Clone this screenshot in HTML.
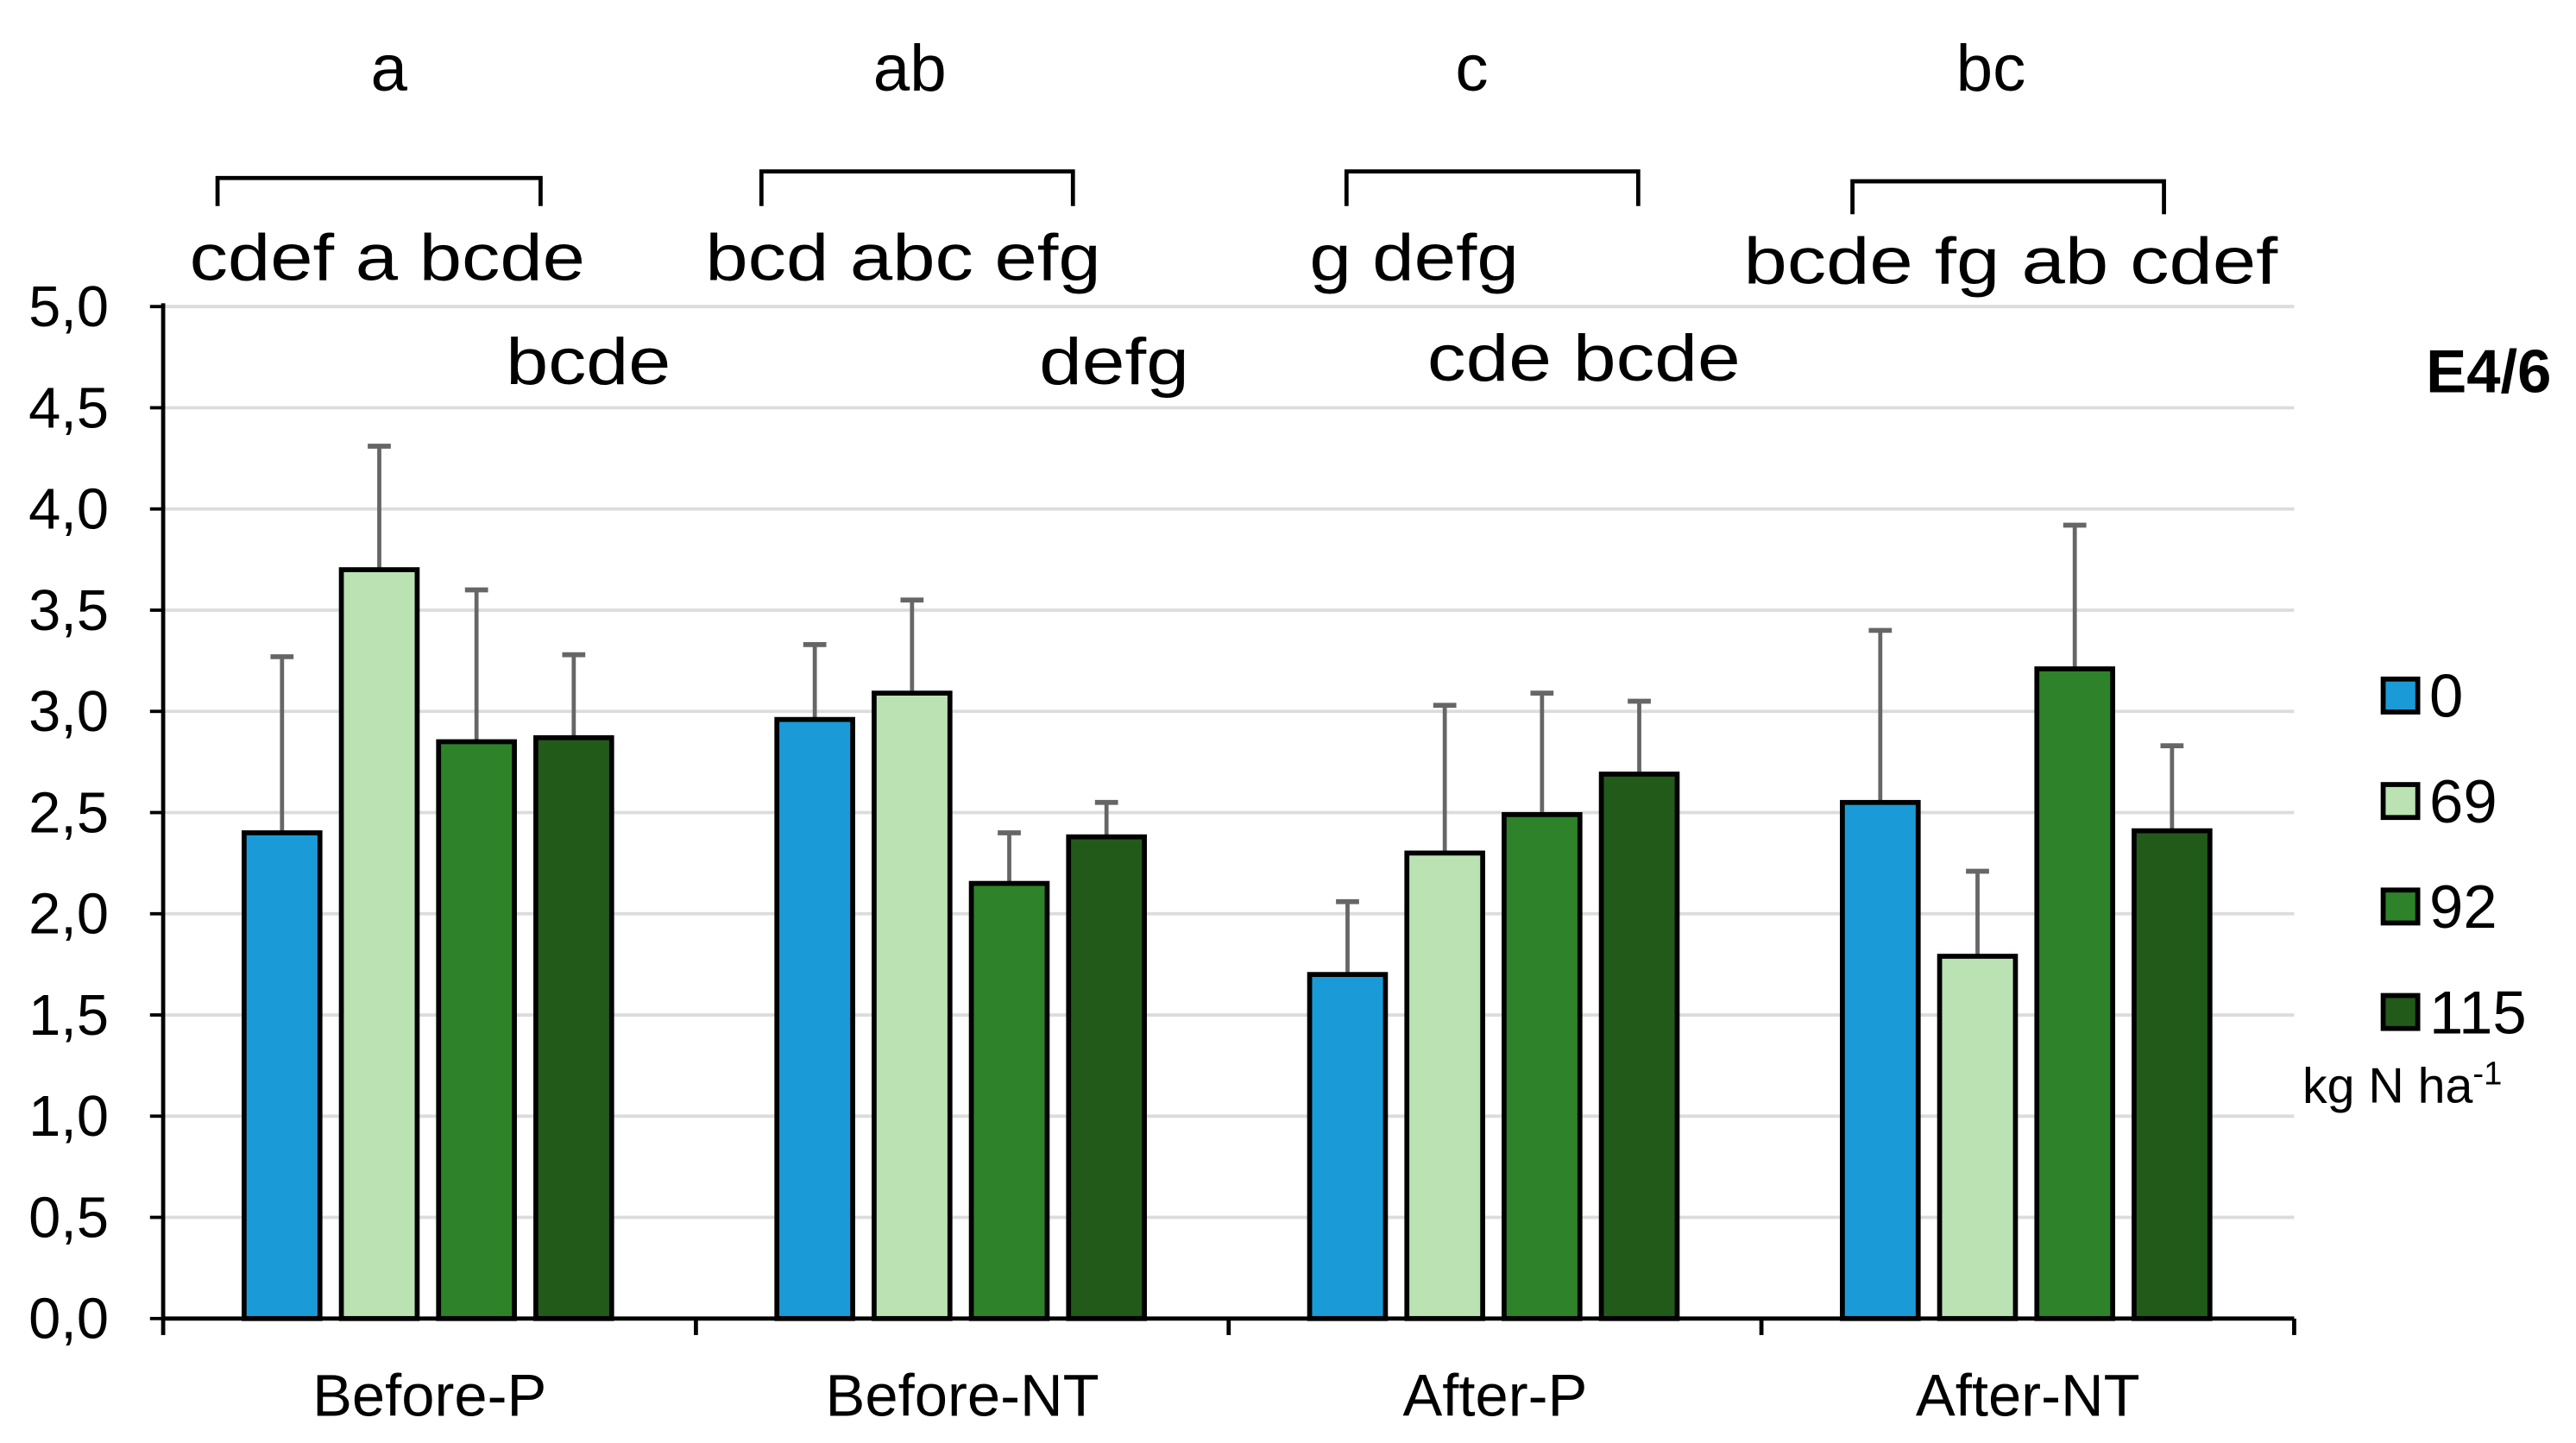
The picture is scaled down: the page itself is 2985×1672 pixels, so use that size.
<!DOCTYPE html>
<html><head><meta charset="utf-8"><style>
html,body{margin:0;padding:0;background:#fff;}
svg{display:block;}
text{font-family:"Liberation Sans",sans-serif;fill:#000;}
</style></head><body>
<svg id="chart" width="2985" height="1672" viewBox="0 0 1563 875.5" preserveAspectRatio="none" xmlns="http://www.w3.org/2000/svg">
<g id="grid"></g>
<g id="bars"></g>
<g id="axes"></g>
<g id="ann"></g>
<g id="legend"></g>
</svg>
<script>
const categories = ["Before-P","Before-NT","After-P","After-NT"];
const seriesNames = ["0","69","92","115"];
const s0 = [2.40, 2.96, 1.70, 2.55];
const s69 = [3.70, 3.09, 2.30, 1.79];
const s92 = [2.85, 2.15, 2.49, 3.21];
const s115 = [2.87, 2.38, 2.69, 2.41];
const e0 = [0.87, 0.37, 0.36, 0.85];
const e69 = [0.61, 0.46, 0.73, 0.42];
const e92 = [0.75, 0.25, 0.60, 0.71];
const e115 = [0.41, 0.17, 0.36, 0.42];
const yTicks = ["0,0","0,5","1,0","1,5","2,0","2,5","3,0","3,5","4,0","4,5","5,0"];
const yTickValues = [0,0.5,1,1.5,2,2.5,3,3.5,4,4.5,5];

const NS="http://www.w3.org/2000/svg";
const colors=["#1a9bd7","#bae2b3","#2e8229","#225a1a"];
const X0=99, X1=1392, Y0=800, Y5=186;
const yScale=v=>Y0-(Y0-Y5)*v/5;
const gw=(X1-X0)/categories.length;
const bw=46, gap=13;
function mk(tag,attrs,parent){const e=document.createElementNS(NS,tag);for(const k in attrs)e.setAttribute(k,attrs[k]);parent.appendChild(e);return e;}
const grid=document.getElementById('grid'),bars=document.getElementById('bars'),axes=document.getElementById('axes'),ann=document.getElementById('ann'),legend=document.getElementById('legend');

yTickValues.forEach((v,i)=>{
  const y=yScale(v);
  if(v>0){const l=mk('line',{x1:X0,x2:X1,y1:y,y2:y,stroke:'#dcdcdc','stroke-width':2},grid);
  
  }
  const t=mk('line',{x1:X0-8,x2:X0,y1:y,y2:y,stroke:'#000','stroke-width':2},axes);
  
  
  const tx=mk('text',{x:66,y:y+12,'text-anchor':'end','font-size':35},axes);
  tx.textContent=yTicks[i];
  
  
});

const series=[s0,s69,s92,s115], errs=[e0,e69,e92,e115];
categories.forEach((c,ci)=>{
  const cx=X0+gw*(ci+0.5);
  const total=4*bw+3*gap;
  series.forEach((s,si)=>{
    const x=cx-total/2+si*(bw+gap)-1;
    const y=yScale(s[ci]);
    const top=yScale(s[ci]+errs[si][ci]);
    const el=mk('line',{x1:x+bw/2,x2:x+bw/2,y1:y,y2:top,stroke:'#666','stroke-width':2.5},bars);
    
    
    const cap=mk('line',{x1:x+bw/2-7,x2:x+bw/2+7,y1:top,y2:top,stroke:'#666','stroke-width':3},bars);
    
    
    const r=mk('rect',{x:x,y:y,width:bw,height:Y0-y,fill:colors[si],stroke:'#000','stroke-width':3},bars);
    
    
  });
  const lab=mk('text',{x:cx,y:859,'text-anchor':'middle','font-size':36},axes);
  lab.textContent=c;
  
  
});
for(let i=0;i<=categories.length;i++){
  const x=X0+gw*i;
  const t=mk('line',{x1:x,x2:x,y1:Y0,y2:810,stroke:'#000','stroke-width':2.5},axes);
  
  
}
const ya=mk('line',{x1:X0,x2:X0,y1:Y5-2,y2:Y0,stroke:'#000','stroke-width':2.5},axes);


const xa=mk('line',{x1:X0,x2:X1,y1:Y0,y2:Y0,stroke:'#000','stroke-width':2.5},axes);



const labels=[["a",236,55,0],["ab",552,55,0],["c",893,55,0],["bc",1208,55,0],
 ["cdef a bcde",235,170,240],["bcde",357,233,100],["bcd abc efg",548,170,240],["defg",676,233,91],
 ["g defg",858,170,127],["cde bcde",961,231,190],["bcde fg ab cdef",1220,172,324]];
labels.forEach(l=>{
  const a={x:l[1],y:l[2],'text-anchor':'middle','font-size':40};
  if(l[3]){a.textLength=l[3];a.lengthAdjust='spacingAndGlyphs';}
  const t=mk('text',a,ann);
  t.textContent=l[0];
  
  
});
[[132,328,108,125],[462,651,104,125],[817,994,104,125],[1124,1313,110,130]].forEach(b=>{
  const p=mk('path',{d:`M${b[0]},${b[3]} V${b[2]} H${b[1]} V${b[3]}`,fill:'none',stroke:'#000','stroke-width':2.5},ann);
  
  
});

const title=mk('text',{x:1510,y:238,'text-anchor':'middle','font-size':37,'font-weight':'bold'},legend);
title.textContent="E4/6";


seriesNames.forEach((n,i)=>{
  const cy=422+i*64;
  const r=mk('rect',{x:1446,y:cy-10,width:21,height:20,fill:colors[i],stroke:'#000','stroke-width':3},legend);
  
  
  const t=mk('text',{x:1474,y:cy+13,'font-size':37},legend);
  t.textContent=n;
  
  
});
const u=mk('text',{x:1397,y:669,'font-size':30},legend);
u.innerHTML='kg N ha<tspan dy="-11" font-size="20">-1</tspan>';


</script>
</body></html>
